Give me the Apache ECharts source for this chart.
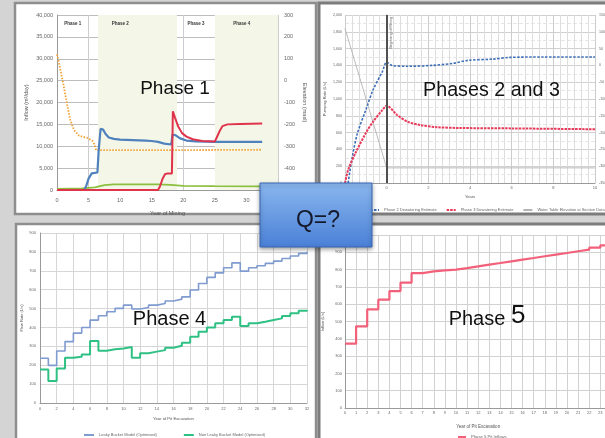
<!DOCTYPE html>
<html><head><meta charset="utf-8">
<script src="https://cdn.jsdelivr.net/npm/echarts@6/dist/echarts.min.js"></script>
<style>html,body{margin:0;padding:0;background:#d4d4d4}#c{width:605px;height:438px}</style>
</head><body><div id="c"></div>
<script>
// ---------- Panel 1 : Phase 1 (Year of Mining) ----------
const p1Blue = [[0,0],[4.3,0],[4.6,800],[5.0,2600],[5.5,3800],[5.8,4000],[6.4,4000],[6.6,9000],[6.9,14000],[7.3,13800],[7.7,12800],[8.2,12000],[9,11700],[10,11500],[12,11400],[14,11300],[15,11200],[16,11000],[17,10600],[18.1,10400],[18.3,12700],[18.8,12500],[19.5,11800],[20.5,11300],[22,11100],[25,11000],[28,11000],[32.5,11000]];
const p1Red = [[0,0],[16,0],[16.3,800],[16.7,2500],[17.1,3600],[17.5,3800],[18.2,3800],[18.35,18000],[18.7,16500],[19.2,14500],[19.8,13000],[20.5,12200],[21.5,11600],[23,11200],[25,11100],[25.3,12000],[25.7,13300],[26.2,14600],[27,15000],[29,15100],[32.5,15200]];
const p1Green = [[0,250],[4,350],[6,600],[7.5,1100],[9,1300],[16,1300],[18,1150],[20,950],[25,880],[32.5,850]];
const p1Elev = [[0,120],[0.5,55],[1,-15],[1.6,-110],[2.1,-180],[2.7,-226],[3.5,-252],[4.8,-262],[5.6,-275],[5.9,-290],[6.2,-318],[15,-318],[25,-317],[32.5,-316]];
const p1PhaseLabels = [['Phase 1',0,5],['Phase 2',5,15],['Phase 3',19,25],['Phase 4',25,33.5]];
const p1Shaded = [[6.5,19],[25,35]];

// ---------- Panel 2 : Phases 2 and 3 (Years) ----------
const p2Phase2 = [[-1.85,0],[-1.65,310],[-1.4,595],[-1.0,870],[-0.65,1110],[-0.2,1330],[0,1440],[0.25,1400],[1.0,1390],[2.2,1400],[3.2,1425],[3.9,1460],[5.1,1475],[5.9,1495],[7.5,1500],[10,1500]];
const p2Phase3 = [[-2,0],[-1.85,155],[-1.5,355],[-1.0,595],[-0.65,730],[-0.2,870],[0,920],[0.5,810],[1.0,730],[1.6,690],[2.4,665],[3.5,655],[6,650],[10,640]];
const p2WaterTable = [[-2,110],[0,-305],[10,-305]];
const p2MiningStart = 0;

// ---------- Panel 3 : Phase 4 (yearly steps, year 0..32) ----------
const p3Leaky = [237,199,275,325,370,400,439,462,483,501,518,498,506,518,527,540,550,562,598,633,665,689,716,742,698,716,727,739,751,765,778,792,801];
const p3NonLeaky = [178,116,183,240,245,257,328,277,284,289,296,240,263,272,280,293,303,319,351,377,400,422,439,457,407,422,430,439,448,460,475,488,492];

// ---------- Panel 4 : Phase 5 (yearly steps, year 0..24) ----------
const p4Inflow = [372,472,570,626,676,725,780,790,796,800,809,819,829,838,848,858,867,877,887,896,906,915,927,940,945];

const F = '"Liberation Sans", Arial, sans-serif';
const fmt = v => Number(v).toLocaleString('en-US');
const lab = (size, margin, extra) => Object.assign({fontSize:size, color:'#666', fontFamily:F, margin:margin}, extra||{});
const nts = size => ({fontSize:size, color:'#555', fontFamily:F});
const noTick = {show:false};
const axLine = {lineStyle:{color:'#9a9a9a', width:1}};

const chart = echarts.init(document.getElementById('c'), null, {renderer:'canvas'});

const markAreaData = [];
p1Shaded.forEach(s => markAreaData.push([{xAxis:s[0], itemStyle:{color:'#f4f7e8'}, label:{show:false}}, {xAxis:s[1]}]));
p1PhaseLabels.forEach(p => markAreaData.push([{xAxis:p[1], name:p[0], itemStyle:{color:'rgba(0,0,0,0)'}}, {xAxis:p[2]}]));

const base = {type:'line', symbol:'none', showSymbol:false, animation:false, silent:true};
const legText = size => ({fontSize:size, color:'#666', fontFamily:F});

const option = {
  animation:false,
  backgroundColor:'#d4d4d4',
  textStyle:{fontFamily:F},
  grid:[
    {left:57, top:15, width:221, height:175, outerBoundsMode:'none', containLabel:false},
    {left:345, top:15, width:250, height:168, outerBoundsMode:'none', containLabel:false},
    {left:40, top:233, width:267, height:170, outerBoundsMode:'none', containLabel:false},
    {left:345, top:235, width:266.4, height:173, outerBoundsMode:'none', containLabel:false}
  ],
  xAxis:[
    {gridIndex:0, type:'value', min:0, max:35, interval:5, axisLine:axLine, axisTick:noTick,
     axisLabel:lab(5.5,7), splitLine:{lineStyle:{color:'#cdcdcd'}},
     name:'Year of Mining', nameLocation:'middle', nameGap:20, nameTextStyle:nts(5.5)},
    {gridIndex:1, type:'value', min:-2, max:10, interval:2, axisLine:axLine, axisTick:noTick,
     axisLabel:lab(4,3), splitLine:{lineStyle:{color:'#cccccc'}},
     minorTick:{show:false, splitNumber:6}, minorSplitLine:{show:true, lineStyle:{color:'#dedede'}},
     name:'Years', nameLocation:'middle', nameGap:12, nameTextStyle:nts(4)},
    {gridIndex:2, type:'value', min:0, max:32, interval:2, axisLine:axLine, axisTick:noTick,
     axisLabel:lab(4,4), splitLine:{lineStyle:{color:'#d6d6d6'}},
     name:'Year of Pit Excavation', nameLocation:'middle', nameGap:14, nameTextStyle:nts(4.2)},
    {gridIndex:3, type:'value', min:0, max:24, interval:1, axisLine:axLine, axisTick:noTick,
     axisLabel:lab(4,3), splitLine:{lineStyle:{color:'#d2d2d2'}},
     name:'Year of Pit Excavation', nameLocation:'middle', nameGap:16, nameTextStyle:nts(4.5)}
  ],
  yAxis:[
    {gridIndex:0, type:'value', min:0, max:40000, interval:5000, axisLine:axLine, axisTick:noTick,
     axisLabel:lab(5.5,4,{formatter:fmt}), splitLine:{lineStyle:{color:'#bdbdbd'}},
     name:'Inflow (m³/day)', nameLocation:'middle', nameGap:28, nameTextStyle:nts(5.5)},
    {gridIndex:0, type:'value', position:'right', min:-500, max:300, interval:100, axisLine:{show:false}, axisTick:noTick,
     axisLabel:lab(5.5,6), splitLine:{show:false},
     name:'Elevation (masl)', nameLocation:'middle', nameGap:24, nameRotate:-90, nameTextStyle:nts(5.5)},
    {gridIndex:1, type:'value', min:0, max:2000, interval:200, axisLine:axLine, axisTick:noTick,
     axisLabel:lab(3.6,3,{formatter:fmt}), splitLine:{lineStyle:{color:'#d0d0d0'}},
     minorTick:{show:false, splitNumber:2}, minorSplitLine:{show:true, lineStyle:{color:'#e6e6e6', type:'dashed'}},
     name:'Pumping Rate (L/s)', nameLocation:'middle', nameGap:18, nameTextStyle:nts(4)},
    {gridIndex:1, type:'value', position:'right', min:-350, max:150, interval:50, axisLine:{show:false}, axisTick:noTick,
     axisLabel:lab(3.6,4), splitLine:{show:false}},
    {gridIndex:2, type:'value', min:0, max:900, interval:100, axisLine:axLine, axisTick:noTick,
     axisLabel:lab(4,4), splitLine:{lineStyle:{color:'#d6d6d6'}},
     name:'Flow Rate (L/s)', nameLocation:'middle', nameGap:16, nameTextStyle:nts(4)},
    {gridIndex:3, type:'value', min:0, max:1000, interval:100, axisLine:axLine, axisTick:noTick,
     axisLabel:lab(4,3,{formatter:fmt}), splitLine:{lineStyle:{color:'#d2d2d2'}},
     name:'Inflow (L/s)', nameLocation:'middle', nameGap:20, nameTextStyle:nts(4)}
  ],
  legend:[
    {data:['Phase 2 Dewatering Estimate','Phase 3 Dewatering Estimate','Water Table Elevation at Section Data'],
     left:364, top:203, width:260, itemWidth:9, itemHeight:4, itemGap:9, itemStyle:{opacity:0},
     textStyle:legText(4)},
    {data:['Leaky Bucket Model (Optimised)','Non Leaky Bucket Model (Optimised)'],
     left:78, top:428, width:240, itemWidth:10, itemHeight:4, itemGap:26, itemStyle:{opacity:0},
     textStyle:legText(4)},
    {data:['Phase 5 Pit Inflows'], left:452, top:430, itemWidth:8, itemHeight:4, itemStyle:{opacity:0},
     textStyle:legText(4.2)}
  ],
  series:[
    Object.assign({}, base, {name:'Phase 1 Pit Inflow', xAxisIndex:0, yAxisIndex:0, data:p1Blue,
      lineStyle:{color:'#4f81bd', width:2.2}, z:4,
      markArea:{silent:true, z:1, label:{show:true, position:'insideTop', distance:6, fontSize:4.5, fontWeight:'bold', color:'#333', fontFamily:F},
        data:markAreaData}}),
    Object.assign({}, base, {name:'Phase 2/3 Pit Inflow', xAxisIndex:0, yAxisIndex:0, data:p1Red,
      lineStyle:{color:'#e0344c', width:2}, z:5}),
    Object.assign({}, base, {name:'Other Inflow', xAxisIndex:0, yAxisIndex:0, data:p1Green,
      lineStyle:{color:'#8cbf3f', width:1.8}, z:3}),
    Object.assign({}, base, {name:'Pit Floor Elevation', xAxisIndex:0, yAxisIndex:1, data:p1Elev,
      lineStyle:{color:'#f0a030', width:1.8, type:[1.5,1.5]}, z:3}),

    Object.assign({}, base, {name:'Phase 2 Dewatering Estimate', xAxisIndex:1, yAxisIndex:2, data:p2Phase2, smooth:0.3,
      lineStyle:{color:'#3f6fb8', width:1.6, type:[2.5,1.5]}, z:4,
      markLine:{silent:true, symbol:['none','none'], animation:false,
        lineStyle:{color:'#505050', width:2, type:'solid'},
        label:{show:true, formatter:'Beginning of Mining', position:'insideEndBottom', fontSize:3.6, color:'#555', fontFamily:F, distance:2},
        data:[{xAxis:p2MiningStart}]}}),
    Object.assign({}, base, {name:'Phase 3 Dewatering Estimate', xAxisIndex:1, yAxisIndex:2, data:p2Phase3, smooth:0.3,
      lineStyle:{color:'#e83a5a', width:2, type:[2.5,1]}, z:4}),
    Object.assign({}, base, {name:'Water Table Elevation at Section Data', xAxisIndex:1, yAxisIndex:3, data:p2WaterTable,
      lineStyle:{color:'#b4b4b4', width:0.9}, z:3}),

    Object.assign({}, base, {name:'Leaky Bucket Model (Optimised)', xAxisIndex:2, yAxisIndex:4, step:'end',
      data:p3Leaky.map((v,i)=>[i,v]), lineStyle:{color:'#7f9bd0', width:1.6}}),
    Object.assign({}, base, {name:'Non Leaky Bucket Model (Optimised)', xAxisIndex:2, yAxisIndex:4, step:'end',
      data:p3NonLeaky.map((v,i)=>[i,v]), lineStyle:{color:'#2fc184', width:2}}),

    Object.assign({}, base, {name:'Phase 5 Pit Inflows', xAxisIndex:3, yAxisIndex:5, step:'end',
      data:p4Inflow.map((v,i)=>[i,v]), lineStyle:{color:'#f2607a', width:2.2}})
  ],
  graphic:[
    {type:'rect', z:-100, shape:{x:15, y:3, width:301, height:211}, style:{fill:'#fff', stroke:'#8e8e8e', lineWidth:2.5}},
    {type:'rect', z:-100, shape:{x:319, y:3, width:290, height:211}, style:{fill:'#fff', stroke:'#7c7c7c', lineWidth:3}},
    {type:'rect', z:-100, shape:{x:16, y:224, width:300, height:218}, style:{fill:'#fff', stroke:'#8e8e8e', lineWidth:2.5}},
    {type:'rect', z:-100, shape:{x:319, y:224, width:290, height:218}, style:{fill:'#fff', stroke:'#7c7c7c', lineWidth:3}},
    {type:'text', z:100, x:175, y:88.5, style:{text:'Phase 1', fontSize:19, fontFamily:F, fill:'#111', align:'center', verticalAlign:'middle'}},
    {type:'text', z:100, x:491.5, y:91, style:{text:'Phases 2 and 3', fontSize:19.7, fontFamily:F, fill:'#111', align:'center', verticalAlign:'middle'}},
    {type:'text', z:100, x:169.5, y:319.5, style:{text:'Phase 4', fontSize:20, fontFamily:F, fill:'#111', align:'center', verticalAlign:'middle'}},
    {type:'text', z:100, x:487, y:316, style:{text:'{a|Phase }{b|5}', align:'center', verticalAlign:'middle', fill:'#111',
      rich:{a:{fontSize:20, fontFamily:F, fill:'#111', verticalAlign:'bottom'}, b:{fontSize:26, fontFamily:F, fill:'#111', verticalAlign:'bottom'}}}},
    {type:'rect', z:200, shape:{x:260, y:183, width:112, height:64},
      style:{fill:{type:'linear', x:0, y:0, x2:0, y2:1, colorStops:[{offset:0, color:'#8ab7ef'},{offset:1, color:'#4a80d6'}]},
        stroke:'#3866b4', lineWidth:1, shadowBlur:4, shadowColor:'rgba(0,0,0,0.35)', shadowOffsetY:2}},
    {type:'text', z:201, x:318, y:221, style:{text:'Q=?', fontSize:23, fontFamily:F, fill:'#141a2c', align:'center', verticalAlign:'middle'}}
  ]
};
chart.setOption(option);
</script></body></html>
